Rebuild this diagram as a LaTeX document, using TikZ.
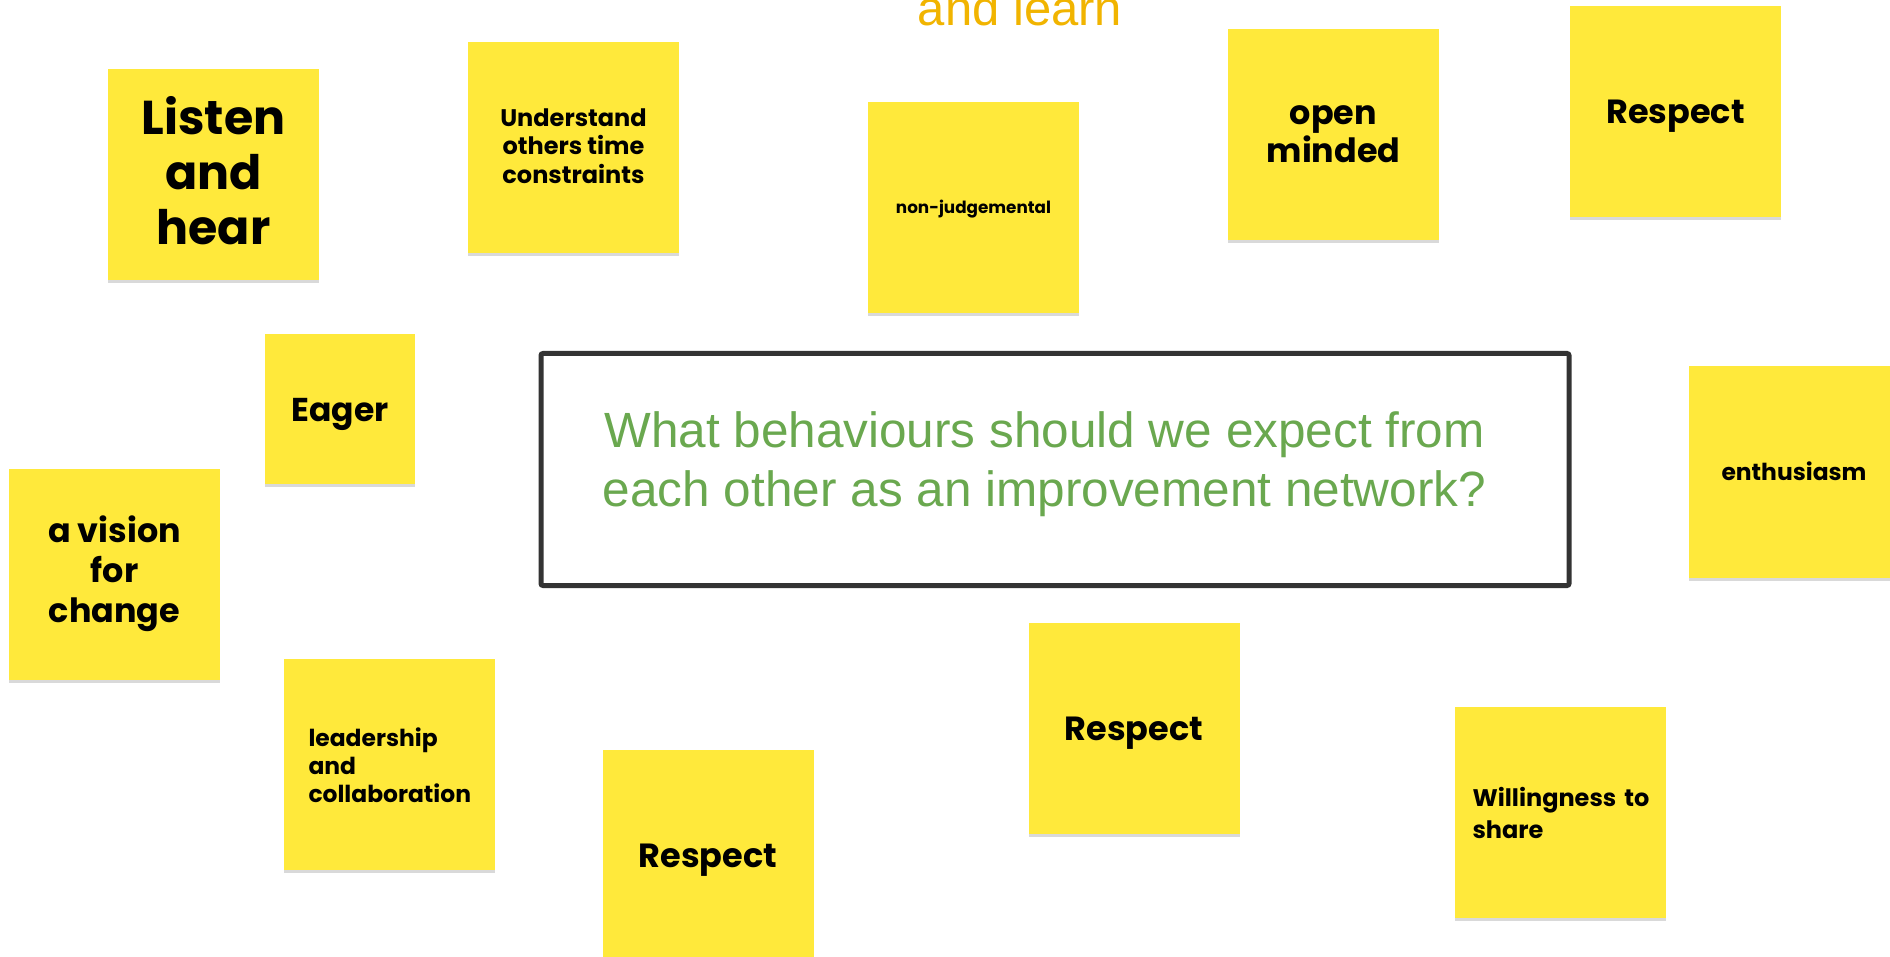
\documentclass[tikz,border=0pt]{standalone}
\usepackage{fontspec}
\setmainfont{Poppins}
\newfontfamily\qfont{Liberation Sans}
\usetikzlibrary{shadows}

\definecolor{noteyellow}{HTML}{FFE93B}
\definecolor{qgreen}{HTML}{6AA84F}
\definecolor{learnorange}{HTML}{F1B400}
\definecolor{boxgray}{HTML}{333333}

\newcommand{\fs}[2]{\fontsize{#1}{#2}\selectfont}
% line strut, so the lines sit in the note like in the board app
\newcommand{\lsc}{.41em}
\newcommand{\ls}{\rule[\dimexpr\lsc-.5\baselineskip\relax]{0pt}{\baselineskip}}

\tikzset{
  lsc/.code={\def\lsc{#1}},
  sticky/.style={rectangle, fill=noteyellow, minimum width=211pt, minimum height=211pt,
    inner sep=0pt, align=center, font=\bfseries,
    execute at begin node=\ls, execute at end node=\ls,
    drop shadow={shadow xshift=0pt, shadow yshift=-3pt, opacity=0.3, fill=black!50}},
  smallsticky/.style={sticky, minimum width=150pt, minimum height=150pt},
  question/.style={draw=boxgray, line width=5pt, rounded corners=2pt, minimum width=1028pt,
    minimum height=232pt},
  questiontext/.style={align=center, text=qgreen, font=\qfont\fs{49.5}{59}},
}

\begin{document}
\begin{tikzpicture}[x=1pt, y=-1pt]
            \clip (0,0) rectangle (1890,957);
            \node[anchor=base, text=learnorange, font=\qfont\fs{49}{59}] (learn) at (1020,26) {and learn};

            % top row
            \node[sticky, font=\bfseries\fs{47.5}{55.4}] (listen) at (213.5,174.5) {Listen\\and\\hear};
            \node[sticky, lsc=.46em, font=\bfseries\fs{24}{28.3}] (understand) at (573.5,147.5) {Understand\\others time\\constraints};
            \node[sticky, lsc=.36em, font=\bfseries\fs{16.8}{20}] (nonjudge) at (973.5,207.5) {non-judgemental};
            \node[sticky, lsc=.54em, font=\bfseries\fs{33.4}{38.6}] (openminded) at (1333.5,134.5) {open\\minded};
            \node[sticky, font=\bfseries\fs{33.5}{40}] (respecttop) at (1675.5,111.5) {Respect};

            % middle
            \node[smallsticky, font=\bfseries\fs{33}{40}] (eager) at (340,409) {Eager};
            \node[sticky, lsc=.47em, font=\bfseries\fs{33.4}{40}] (vision) at (114.5,574) {a vision\\for\\change};
            \node[question] (question) at (1055,469.5) {};
            \node[questiontext] (questiontext) at (1044.5,464) {What behaviours should we expect from\\each other as an improvement network?};
            \node[sticky, lsc=.36em, font=\bfseries\fs{23.4}{28}] (enthusiasm) at (1794,472) {enthusiasm};

            % bottom row
            \node[sticky, text width=161pt, inner xsep=25pt, align=left, font=\bfseries\fs{23.4}{28}] (leadership) at (389,764.5) {leadership\\and\\collaboration};
            \node[sticky, font=\bfseries\fs{33.5}{40}] (respectbottom) at (708,855) {Respect};
            \node[sticky, font=\bfseries\fs{33.5}{40}] (respectmid) at (1134,728) {Respect};
            \node[sticky, text width=175pt, inner xsep=18pt, align=left, font=\bfseries\fs{24}{29}] (willingness) at (1560,812.5) {Willingness~to\\share};
        \end{tikzpicture}
\end{document}
